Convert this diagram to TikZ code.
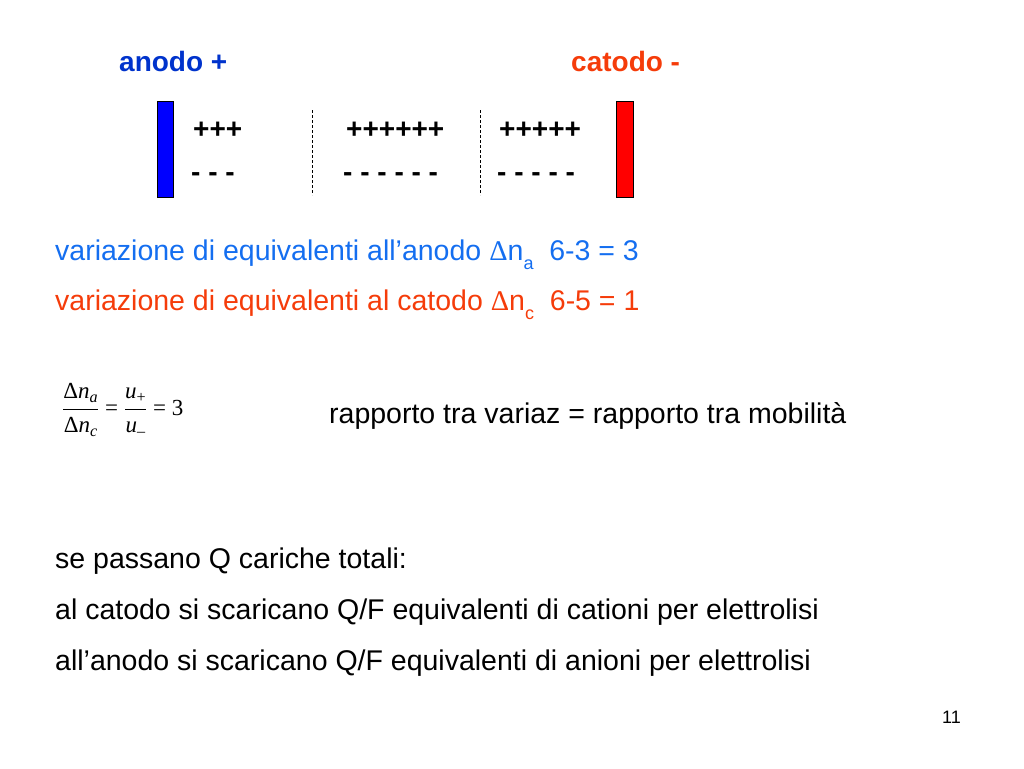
\documentclass[tikz,border=0pt]{standalone}
\usepackage{fontspec}
\setmainfont{Liberation Sans}
\newfontfamily\timesf{Liberation Serif}
\usepackage{amsmath}
\definecolor{anblue}{RGB}{0,51,204}
\definecolor{lblue}{RGB}{20,110,240}
\definecolor{cred}{RGB}{245,60,10}
\newcommand\tx[1]{\hbox{\timesf #1}}
\newcommand\sbs[1]{\raisebox{-0.3em}{\fontsize{18}{18}\selectfont #1}}
\begin{document}
\begin{tikzpicture}[x=1pt,y=-1pt,
  txt/.style={anchor=west,inner sep=0pt,font=\fontsize{28.5}{32}\selectfont},
  ion/.style={anchor=west,inner sep=0pt,font=\fontsize{28}{30}\selectfont\bfseries},
  sep/.style={dashed,line width=0.6pt,dash pattern=on 3pt off 2pt}]
\useasboundingbox (0,0) rectangle (1024,768);
\node[ion,text=anblue] (an) at (119,61) {anodo +};
\node[ion,text=cred] (ca) at (571,61) {catodo -};
\draw[fill=blue] (157,101) rectangle (173,197);
\draw[fill=red] (616,101) rectangle (633,197);
\draw[sep] (312,110) -- (312,195);
\draw[sep] (480,110) -- (480,195);
\node[ion] (p1) at (193,130) {+++};
\node[ion] (m1) at (191,177) {- - -};
\node[ion] (p2) at (346,130) {++++++};
\node[ion] (m2) at (343,177) {- - - - - -};
\node[ion] (p3) at (499,130) {+++++};
\node[ion] (m3) at (497,177) {- - - - -};
\node[txt,text=lblue] (l1) at (55,255) {variazione di equivalenti all’anodo {\timesf Δ}n\sbs{a}\ \ 6-3 = 3};
\node[txt,text=cred] (l2) at (55,305) {variazione di equivalenti al catodo {\timesf Δ}n\sbs{c}\ \ 6-5 = 1};
\node[anchor=west,inner sep=0pt,font=\fontsize{23}{25}\selectfont] (f) at (62,410)
  {$\dfrac{\tx{Δ\textit{n}\textsubscript{\textit{a}}}}{\tx{Δ\textit{n}\textsubscript{\textit{c}}}}\tx{ = }\dfrac{\tx{\textit{u}\textsubscript{+}}}{\tx{\textit{u}\textsubscript{–}}}\tx{ = 3}$};
\node[txt] (r) at (329,416) {rapporto tra variaz = rapporto tra mobilità};
\node[txt] (s1) at (55,561) {se passano Q cariche totali:};
\node[txt] (s2) at (55,612) {al catodo si scaricano Q/F equivalenti di cationi per elettrolisi};
\node[txt] (s3) at (55,663) {all’anodo si scaricano Q/F equivalenti di anioni per elettrolisi};
\node[anchor=west,inner sep=0pt,font=\fontsize{18}{20}\selectfont] (pg) at (942,717) {11};
\end{tikzpicture}
\end{document}
